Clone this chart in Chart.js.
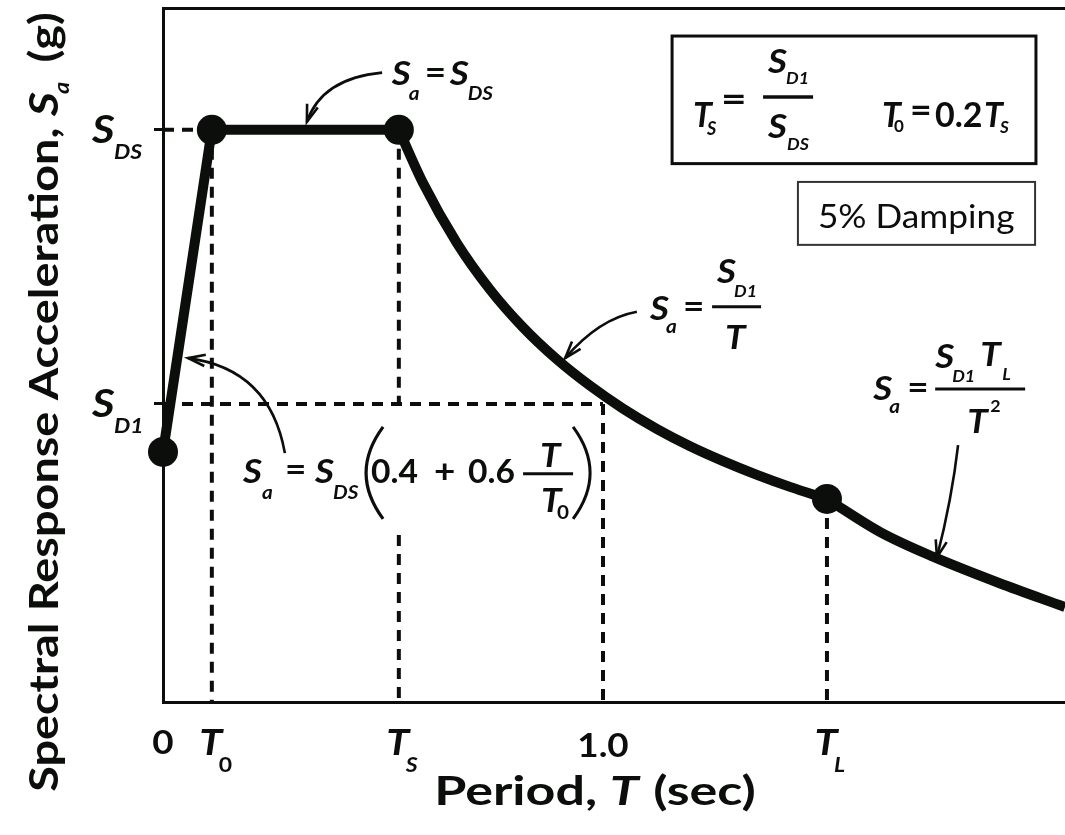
<!DOCTYPE html>
<html>
<head>
<meta charset="utf-8">
<script src="https://cdn.jsdelivr.net/npm/chart.js@4.4.1/dist/chart.umd.min.js"></script>
<style>
  html, body { margin: 0; padding: 0; background: #fff; overflow: hidden; }
  #wrap { width: 1065px; height: 835px; position: relative; }
</style>
</head>
<body>
<div id="wrap"><canvas id="spectrum"></canvas></div>
<script>
/* Design response spectrum (schematic).
   T in sec, Sa in g with S_DS taken as 1.0. */
var INK = "#0c0e0c";
var FAM = "Lato, 'Open Sans', 'DejaVu Sans', sans-serif";
var HX = 1.15;   // text is set a little wide, like the original lettering

var T0 = 0.111, TS = 0.536, T1 = 1.0, TL = 1.509;
var SDS = 1.0, SD1 = 0.521;
var X_MAX = 2.05, Y_MAX = 1.213;

// ramp + plateau
var rampT = [0, 0.111, 0.536];
var rampSa = [0.437, 1.0, 1.0];
// Sa = SD1 / T branch
var velT = [0.536, 0.591, 0.668, 0.743, 0.818, 0.895, 0.970, 1.045, 1.123, 1.198, 1.273, 1.350, 1.425, 1.509];
var velSa = [1.0, 0.907, 0.802, 0.721, 0.655, 0.599, 0.553, 0.513, 0.477, 0.447, 0.421, 0.397, 0.376, 0.355];
// Sa = SD1 TL / T^2 branch
var dispT = [1.509, 1.63, 1.75, 1.90, 2.05];
var dispSa = [0.355, 0.297, 0.254, 0.208, 0.166];
// marked corners
var dotT = [0, 0.111, 0.536, 1.509];
var dotSa = [0.437, 1.0, 1.0, 0.355];
// dashed guides (pairs of end points)
var guideT = [[0, 0.111], [0, 1.0], [0.111, 0.111], [0.536, 0.536], [0.536, 0.536], [1.0, 1.0], [1.509, 1.509]];
var guideSa = [[1.0, 1.0], [0.521, 0.521], [1.0, 0], [1.0, 0.521], [0.292, 0], [0.521, 0], [0.355, 0]];

function pts(xs, ys) {
  return xs.map(function (x, i) { return { x: x, y: ys[i] }; });
}

var datasets = [
  { label: "corners", type: "scatter", data: pts(dotT, dotSa), pointRadius: 15, pointHoverRadius: 15,
    backgroundColor: INK, borderWidth: 0, order: 0, clip: false },
  { label: "ramp", data: pts(rampT, rampSa), borderColor: INK, borderWidth: 10, pointRadius: 0,
    tension: 0, borderJoinStyle: "round", order: 1, clip: false },
  { label: "velocity", data: pts(velT, velSa), borderColor: INK, borderWidth: 10, pointRadius: 0,
    cubicInterpolationMode: "monotone", order: 1, clip: false },
  { label: "displacement", data: pts(dispT, dispSa), borderColor: INK, borderWidth: 10, pointRadius: 0,
    cubicInterpolationMode: "monotone", order: 1, clip: false }
];
guideT.forEach(function (g, i) {
  datasets.push({ label: "guide" + i, data: pts(g, guideSa[i]), borderColor: INK, borderWidth: 4,
    borderDash: [11, 8], pointRadius: 0, order: 5, clip: false });
});

function fnt(size, style) {
  return (style === "i" ? "italic 700 " : style === "r" ? "400 " : "700 ") + size + "px " + FAM;
}
// draw text stretched by hx (default HX)
function put(ctx, s, x, y, size, style, align, hx) {
  hx = hx || HX;
  ctx.save();
  ctx.font = fnt(size, style);
  ctx.textAlign = align || "left";
  ctx.translate(x, y);
  ctx.scale(hx, 1);
  ctx.fillText(s, 0, 0);
  ctx.restore();
}
function wid(ctx, s, size, style, hx) {
  ctx.font = fnt(size, style);
  return ctx.measureText(s).width * (hx || HX);
}
function bar(ctx, x0, x1, y, w) {
  ctx.lineWidth = w || 3;
  ctx.beginPath(); ctx.moveTo(x0, y); ctx.lineTo(x1, y); ctx.stroke();
}
function arrow(ctx, p0, c, p1) {
  ctx.lineWidth = 2.6;
  ctx.beginPath(); ctx.moveTo(p0.x, p0.y); ctx.quadraticCurveTo(c.x, c.y, p1.x, p1.y); ctx.stroke();
  var ang = Math.atan2(p1.y - c.y, p1.x - c.x), L = 18, a = 0.32;
  ctx.beginPath();
  ctx.moveTo(p1.x - L * Math.cos(ang - a), p1.y - L * Math.sin(ang - a));
  ctx.lineTo(p1.x, p1.y);
  ctx.lineTo(p1.x - L * Math.cos(ang + a), p1.y - L * Math.sin(ang + a));
  ctx.stroke();
}

var notes = {
  id: "notes",
  afterDraw: function (chart) {
    var ctx = chart.ctx, xs = chart.scales.x, ys = chart.scales.y;
    function at(t, sa) { return { x: xs.getPixelForValue(t), y: ys.getPixelForValue(sa) }; }
    var left = xs.left, bottom = ys.bottom;
    ctx.save();
    ctx.fillStyle = INK; ctx.strokeStyle = INK;
    ctx.textBaseline = "alphabetic";
    ctx.lineCap = "butt";

    /* y tick labels */
    [[SDS, "DS"], [SD1, "D1"]].forEach(function (k) {
      var y = ys.getPixelForValue(k[0]);
      put(ctx, "S", left - 71, y + 13, 38, "i");
      put(ctx, k[1], left - 49, y + 29, 20, "i");
    });
    /* x tick labels */
    put(ctx, "0", xs.getPixelForValue(0), bottom + 52, 32, "b", "center");
    put(ctx, "1.0", xs.getPixelForValue(T1), bottom + 55, 32, "b", "center");
    [[T0, "0", "b"], [TS, "S", "i"], [TL, "L", "i"]].forEach(function (k) {
      var x = xs.getPixelForValue(k[0]);
      put(ctx, "T", x - 1, bottom + 53, 36, "i", "center");
      put(ctx, k[1], x + 7, bottom + 70, 20, k[2]);
    });

    /* x title */
    var TF = 40, TH = 1.17, XH = 1.3;
    var p1 = "Period, ", p3 = " (sec)";
    var w1 = wid(ctx, p1, TF, "b", XH), w2 = wid(ctx, "T", TF, "i", XH), w3 = wid(ctx, p3, TF, "b", XH);
    var tx = 594 - (w1 + w2 + w3) / 2, ty = bottom + 103;
    put(ctx, p1, tx, ty, TF, "b", "left", XH);
    put(ctx, "T", tx + w1, ty, TF, "i", "left", XH);
    put(ctx, p3, tx + w1 + w2 + 2, ty, TF, "b", "left", XH);

    /* y title */
    ctx.save();
    ctx.translate(58, 405);
    ctx.rotate(-Math.PI / 2);
    var q1 = "Spectral Response Acceleration, ", q4 = " (g)";
    var v1 = wid(ctx, q1, TF, "b", TH), v2 = wid(ctx, "S", TF, "i", TH);
    var v3 = wid(ctx, "a", 20, "i", TH), v4 = wid(ctx, q4, TF, "b", TH);
    var sx = -(v1 + v2 + v3 + v4) / 2;
    put(ctx, q1, sx, 0, TF, "b", "left", TH);
    put(ctx, "S", sx + v1, 0, TF, "i", "left", TH);
    put(ctx, "a", sx + v1 + v2 - 2, 11, 20, "i", "left", TH);
    put(ctx, q4, sx + v1 + v2 + v3 + 6, 0, TF, "b", "left", TH);
    ctx.restore();

    /* Sa = SDS on plateau */
    var a = at(0.520, 1.079);
    put(ctx, "S", a.x, a.y, 32, "i"); put(ctx, "a", a.x + 17, a.y + 15, 18, "i");
    put(ctx, "=", a.x + 33, a.y - 1, 32, "b");
    put(ctx, "S", a.x + 58, a.y, 32, "i"); put(ctx, "DS", a.x + 76, a.y + 15, 18, "i");
    arrow(ctx, at(0.498, 1.100), at(0.361, 1.090), at(0.327, 1.014));

    /* Sa = SD1 / T */
    a = at(1.107, 0.668);
    put(ctx, "S", a.x, a.y, 32, "i"); put(ctx, "a", a.x + 16, a.y + 13, 18, "i");
    put(ctx, "=", a.x + 33, a.y - 2, 32, "b");
    bar(ctx, a.x + 62, a.x + 111, a.y - 13);
    put(ctx, "S", a.x + 67, a.y - 37, 32, "i"); put(ctx, "D1", a.x + 84, a.y - 23, 17, "i", "left", 1.05);
    put(ctx, "T", a.x + 75, a.y + 29, 32, "i");
    arrow(ctx, at(1.077, 0.682), at(0.991, 0.670), at(0.914, 0.601));

    /* Sa = SD1 TL / T^2 */
    a = at(1.614, 0.528);
    put(ctx, "S", a.x, a.y, 32, "i"); put(ctx, "a", a.x + 16, a.y + 13, 18, "i");
    put(ctx, "=", a.x + 34, a.y - 1, 32, "b");
    bar(ctx, a.x + 62, a.x + 152, a.y - 11);
    put(ctx, "S", a.x + 62, a.y - 32, 32, "i"); put(ctx, "D1", a.x + 79, a.y - 18, 17, "i", "left", 1.05);
    put(ctx, "T", a.x + 107, a.y - 34, 32, "i"); put(ctx, "L", a.x + 129, a.y - 20, 17, "i", "left", 1.05);
    put(ctx, "T", a.x + 94, a.y + 33, 32, "i"); put(ctx, "2", a.x + 117, a.y + 12, 17, "b", "left", 1.05);
    arrow(ctx, at(1.807, 0.449), at(1.793, 0.355), at(1.759, 0.253));

    /* Sa = SDS (0.4 + 0.6 T/T0) */
    a = at(0.182, 0.383);
    put(ctx, "S", a.x, a.y, 32, "i"); put(ctx, "a", a.x + 19, a.y + 16, 18, "i");
    put(ctx, "=", a.x + 42, a.y - 2, 32, "b");
    put(ctx, "S", a.x + 72, a.y, 32, "i"); put(ctx, "DS", a.x + 90, a.y + 16, 18, "i");
    ctx.lineWidth = 3.2;
    ctx.beginPath(); ctx.moveTo(a.x + 140, a.y - 56); ctx.quadraticCurveTo(a.x + 106, a.y - 10, a.x + 140, a.y + 36); ctx.stroke();
    put(ctx, "0.4", a.x + 128, a.y, 32, "b", "left", 1.05);
    put(ctx, "+", a.x + 191, a.y, 32, "b");
    put(ctx, "0.6", a.x + 225, a.y, 32, "b", "left", 1.05);
    bar(ctx, a.x + 280, a.x + 330, a.y - 9);
    put(ctx, "T", a.x + 297, a.y - 16, 32, "i");
    put(ctx, "T", a.x + 298, a.y + 29, 32, "i"); put(ctx, "0", a.x + 314, a.y + 36, 18, "b");
    ctx.beginPath(); ctx.moveTo(a.x + 330, a.y - 56); ctx.quadraticCurveTo(a.x + 364, a.y - 10, a.x + 330, a.y + 36); ctx.stroke();
    arrow(ctx, at(0.277, 0.435), at(0.243, 0.582), at(0.057, 0.601));

    /* definitions box */
    var b0 = at(1.157, 1.164), b1 = at(1.984, 0.941);
    ctx.lineWidth = 3;
    ctx.strokeRect(b0.x, b0.y, b1.x - b0.x, b1.y - b0.y);
    var bx = b0.x, by = b0.y;
    put(ctx, "T", bx + 21, by + 91, 34, "i", "left", 1.0); put(ctx, "S", bx + 35, by + 99, 18, "i", "left", 1.0);
    put(ctx, "=", bx + 49, by + 75, 34, "b", "left", 1.3);
    bar(ctx, bx + 91, bx + 141, by + 61, 3.5);
    put(ctx, "S", bx + 96, by + 37, 32, "i"); put(ctx, "D1", bx + 114, by + 48, 17, "i", "left", 1.05);
    put(ctx, "S", bx + 96, by + 102, 32, "i"); put(ctx, "DS", bx + 115, by + 114, 17, "i", "left", 1.05);
    put(ctx, "T", bx + 210, by + 91, 34, "i", "left", 1.0); put(ctx, "0", bx + 222, by + 96, 17, "b", "left", 1.0);
    put(ctx, "=", bx + 238, by + 86, 34, "b", "left", 1.1);
    put(ctx, "0.2", bx + 263, by + 91, 34, "b", "left", 1.0);
    put(ctx, "T", bx + 312, by + 91, 34, "i", "left", 1.0); put(ctx, "S", bx + 328, by + 97, 17, "i", "left", 1.0);

    /* damping box */
    var d0 = at(1.443, 0.909), d1 = at(1.982, 0.799);
    ctx.lineWidth = 2; ctx.strokeStyle = "#333";
    ctx.strokeRect(d0.x, d0.y, d1.x - d0.x, d1.y - d0.y);
    put(ctx, "5% Damping", d0.x + 20, d0.y + 46, 32, "r", "left", 1.1);

    ctx.restore();
  }
};

var hidden = { display: false };
new Chart(document.getElementById("spectrum"), {
  type: "line",
  data: { datasets: datasets },
  options: {
    responsive: true, maintainAspectRatio: false, animation: false,
    layout: { padding: 0, autoPadding: false },
    events: [],
    plugins: { legend: hidden, tooltip: { enabled: false } },
    scales: {
      x: {
        type: "linear", position: "bottom", min: 0, max: X_MAX,
        border: { display: true, width: 3, color: INK },
        grid: { drawOnChartArea: false, drawTicks: false },
        ticks: { display: false },
        afterFit: function (s) { s.height = 133; }
      },
      x2: {
        type: "linear", position: "top", min: 0, max: X_MAX,
        border: { display: true, width: 3, color: INK },
        grid: { drawOnChartArea: false, drawTicks: false },
        ticks: { display: false },
        afterFit: function (s) { s.height = 8; }
      },
      y: {
        type: "linear", min: 0, max: Y_MAX,
        border: { display: true, width: 3, color: INK },
        grid: { drawOnChartArea: false, drawTicks: true, tickLength: 9, lineWidth: 3, color: INK },
        ticks: { display: false },
        afterBuildTicks: function (s) { s.ticks = [{ value: SD1 }, { value: SDS }]; },
        afterFit: function (s) { s.width = 163; }
      }
    }
  },
  plugins: [notes]
});
</script>
</body>
</html>
